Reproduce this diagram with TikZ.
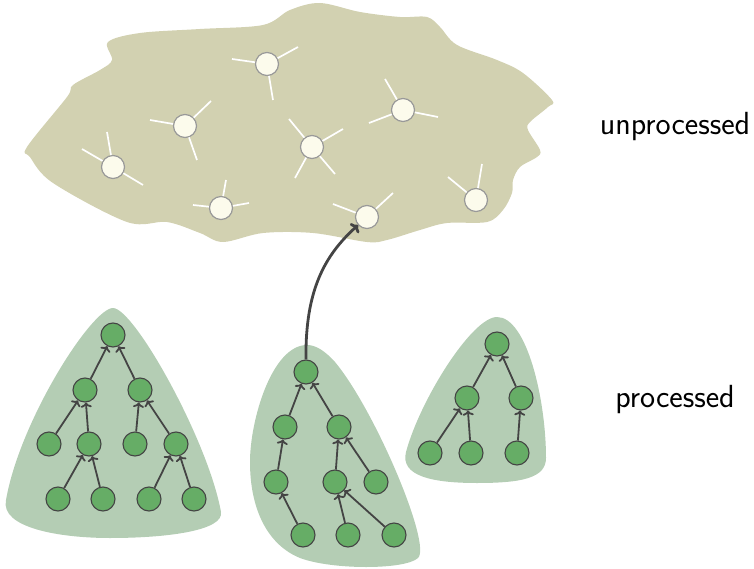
\documentclass[tikz,border=0pt]{standalone}
\usetikzlibrary{arrows.meta}
\definecolor{cloudfill}{HTML}{D2D1B1}
\definecolor{treefill}{HTML}{B4CDB4}
\definecolor{gnode}{HTML}{66AD66}
\definecolor{wnodefill}{HTML}{FCFBEC}
\definecolor{edgec}{HTML}{444444}
\tikzset{
  wnode/.style={circle, draw=black!40, line width=1.2pt, fill=wnodefill, minimum size=23pt, inner sep=0pt},
  gnode/.style={circle, draw=edgec, line width=1.1pt, fill=gnode, minimum size=24pt, inner sep=0pt},
  spoke/.style={white, line width=1.7pt},
  tedge/.style={edgec, line width=1.8pt, -{To[length=5pt,width=11pt]}},
  bigarrow/.style={edgec, line width=2.8pt, -{To[length=6pt,width=13pt]}},
  lbl/.style={font=\sffamily\fontsize{32}{36}\selectfont, anchor=base, inner sep=0pt},
}
\begin{document}
\begin{tikzpicture}[x=1pt, y=-1pt]
\useasboundingbox (0,0) rectangle (754,569);
% cloud
\fill[cloudfill] plot[smooth cycle, tension=0.55] coordinates {
(108,42) (140,33) (200,29) (263,25) (290,10) (320,3) (360,12) (400,17) (427,17) (440,27) (457,45) (497,60) (523,73) (552,100) (548,107) (530,122) (528,130) (540,150) (537,157) (520,167) (513,180) (512,193) (503,210) (487,222) (447,223) (420,230) (387,240) (367,242) (313,233) (263,233) (223,242) (200,233) (167,222) (127,222) (53,183) (30,157) (27,147) (67,97) (73,85) (100,70) (112,60)};
% tree regions
\fill[treefill] (113,308) .. controls (92,308) and (20,420) .. (6,500) .. controls (0,528) and (60,538) .. (110,538) .. controls (170,538) and (224,530) .. (221,512) .. controls (208,440) and (134,308) .. (113,308) -- cycle;
\fill[treefill] (307,345) .. controls (272,345) and (250,420) .. (250,462) .. controls (250,510) and (268,545) .. (300,558) .. controls (332,570) and (405,570) .. (418,558) .. controls (432,545) and (375,410) .. (335,362) .. controls (325,351) and (316,345) .. (307,345) -- cycle;
\fill[treefill] (497,317) .. controls (472,317) and (420,400) .. (406,452) .. controls (400,476) and (432,483) .. (477,483) .. controls (522,483) and (546,478) .. (546,458) .. controls (546,400) and (527,317) .. (497,317) -- cycle;
% unprocessed nodes
\node[wnode] (u1) at (113,167) {};
\node[wnode] (u2) at (185,126) {};
\node[wnode] (u3) at (267,64) {};
\node[wnode] (u4) at (312,147) {};
\node[wnode] (u5) at (221,208) {};
\node[wnode] (u6) at (367,217) {};
\node[wnode] (u7) at (403,110) {};
\node[wnode] (u8) at (476,200) {};
% spoke ends
\coordinate (s1a) at (82,149); \coordinate (s1b) at (107,132); \coordinate (s1c) at (143,185);
\coordinate (s2a) at (150,120); \coordinate (s2b) at (211,101); \coordinate (s2c) at (197,160);
\coordinate (s3a) at (232,59); \coordinate (s3b) at (298,47); \coordinate (s3c) at (273,100);
\coordinate (s4a) at (289,119); \coordinate (s4b) at (343,129); \coordinate (s4c) at (295,178); \coordinate (s4d) at (335,174);
\coordinate (s5a) at (193,205); \coordinate (s5b) at (226,180); \coordinate (s5c) at (249,203);
\coordinate (s6a) at (333,204); \coordinate (s6b) at (393,193);
\coordinate (s7a) at (385,79); \coordinate (s7b) at (438,117); \coordinate (s7c) at (369,123);
\coordinate (s8a) at (448,177); \coordinate (s8b) at (482,164);
\foreach \n/\e in {u1/s1a,u1/s1b,u1/s1c,u2/s2a,u2/s2b,u2/s2c,u3/s3a,u3/s3b,u3/s3c,u4/s4a,u4/s4b,u4/s4c,u4/s4d,u5/s5a,u5/s5b,u5/s5c,u6/s6a,u6/s6b,u7/s7a,u7/s7b,u7/s7c,u8/s8a,u8/s8b}
  \draw[spoke] (\n) -- (\e);
% tree 1
\node[gnode] (a0) at (113,335) {};
\node[gnode] (a1) at (85,390) {};
\node[gnode] (a2) at (140,390) {};
\node[gnode] (a3) at (49,444) {};
\node[gnode] (a4) at (89,444) {};
\node[gnode] (a5) at (135,444) {};
\node[gnode] (a6) at (176,444) {};
\node[gnode] (a7) at (58,499) {};
\node[gnode] (a8) at (103,499) {};
\node[gnode] (a9) at (149,499) {};
\node[gnode] (a10) at (194,499) {};
\foreach \c/\p in {a1/a0,a2/a0,a3/a1,a4/a1,a5/a2,a6/a2,a7/a4,a8/a4,a9/a6,a10/a6}
  \draw[tedge] (\c) -- (\p);
% tree 2
\node[gnode] (b0) at (306,372) {};
\node[gnode] (b1) at (285,427) {};
\node[gnode] (b2) at (339,427) {};
\node[gnode] (b3) at (276,482) {};
\node[gnode] (b4) at (335,482) {};
\node[gnode] (b5) at (376,482) {};
\node[gnode] (b6) at (303,535) {};
\node[gnode] (b7) at (348,535) {};
\node[gnode] (b8) at (394,535) {};
\foreach \c/\p in {b1/b0,b2/b0,b3/b1,b6/b3,b4/b2,b5/b2,b7/b4,b8/b4}
  \draw[tedge] (\c) -- (\p);
% tree 3
\node[gnode] (c0) at (497,344) {};
\node[gnode] (c1) at (467,398) {};
\node[gnode] (c2) at (521,398) {};
\node[gnode] (c3) at (430,453) {};
\node[gnode] (c4) at (471,453) {};
\node[gnode] (c5) at (517,453) {};
\foreach \c/\p in {c1/c0,c2/c0,c3/c1,c4/c1,c5/c2}
  \draw[tedge] (\c) -- (\p);
% big arrow
\draw[bigarrow] (b0.north) .. controls (305,290) and (325,255) .. (u6);
% labels
\node[lbl] (lu) at (675,135) {unprocessed};
\node[lbl] (lp) at (675,407) {processed};
\end{tikzpicture}
\end{document}
